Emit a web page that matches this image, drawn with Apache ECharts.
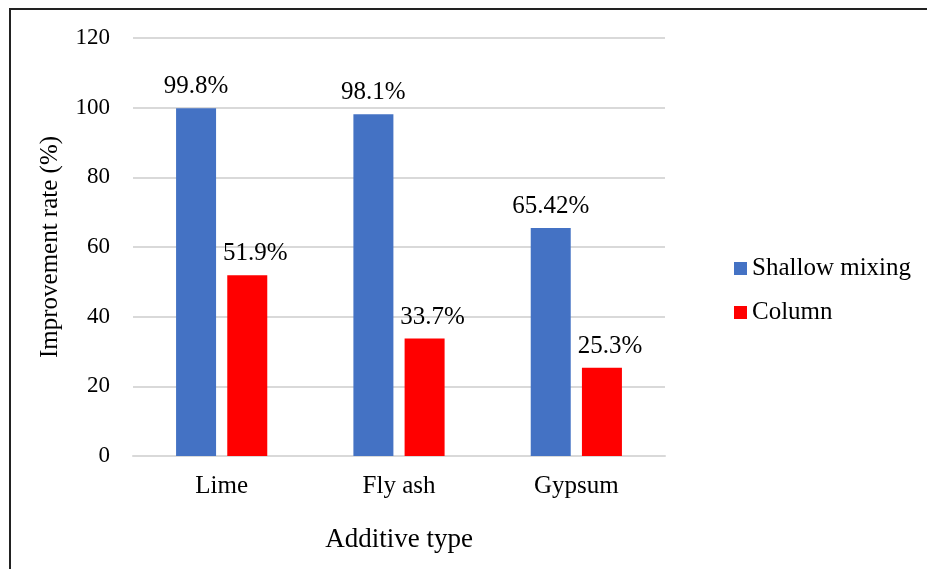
<!DOCTYPE html>
<html lang="en">
<head>
    <meta charset="utf-8">
    <title>Improvement rate</title>
    <script src="https://cdn.jsdelivr.net/npm/echarts@6/dist/echarts.min.js"></script>
    <style>
        html, body { margin: 0; padding: 0; background: #fff; }
        #frame { position: absolute; left: 9px; top: 8px; width: 930px; height: 580px;
                 border-left: 2px solid #222; border-top: 2px solid #222; }
        #chart { position: absolute; left: 0; top: 0; width: 927px; height: 569px; }
    </style>
</head>
<body>
<div id="frame"></div>
<div id="chart"></div>
<script type="text/javascript">
    // 数据
    var categories = ['Lime', 'Fly ash', 'Gypsum'];
    var shallowMixing = [99.8, 98.1, 65.42];
    var column = [51.9, 33.7, 25.3];
    var shallowLabels = ['99.8%', '98.1%', '65.42%'];
    var columnLabels = ['51.9%', '33.7%', '25.3%'];

    var font = '"Liberation Serif", "Times New Roman", serif';
    var chart = echarts.init(document.getElementById('chart'));

    function labelFor(texts, dx) {
        return {
            show: true,
            position: 'top',
            distance: 9,
            offset: [dx, 0],
            fontFamily: font,
            fontSize: 25,
            color: '#000',
            formatter: function (p) { return texts[p.dataIndex]; }
        };
    }

    option = {
        animation: false,
        textStyle: { fontFamily: font },
        grid: { left: 133, right: 262, top: 38, bottom: 113 },
        legend: {
            orient: 'vertical',
            left: 734,
            top: 256,
            padding: 0,
            itemWidth: 13,
            itemHeight: 13,
            itemGap: 19,
            icon: 'rect',
            textStyle: { fontFamily: font, fontSize: 25, color: '#000' },
            data: ['Shallow mixing', 'Column']
        },
        xAxis: {
            type: 'category',
            data: categories,
            name: 'Additive type',
            nameLocation: 'middle',
            nameGap: 70,
            nameTextStyle: { fontFamily: font, fontSize: 27, color: '#000' },
            axisLine: { lineStyle: { color: '#d9d9d9', width: 2 } },
            axisTick: { show: false },
            axisLabel: { fontFamily: font, fontSize: 25, color: '#000', margin: 18 }
        },
        yAxis: {
            type: 'value',
            min: 0,
            max: 120,
            interval: 20,
            name: 'Improvement rate (%)',
            nameLocation: 'middle',
            nameGap: 70,
            nameTextStyle: { fontFamily: font, fontSize: 25, color: '#000' },
            axisLine: { show: false },
            axisTick: { show: false },
            axisLabel: { fontFamily: font, fontSize: 23, color: '#000', margin: 23 },
            splitLine: { lineStyle: { color: '#d9d9d9', width: 2 } }
        },
        series: [
            {
                name: 'Shallow mixing',
                type: 'bar',
                barWidth: 40,
                barGap: '28%',
                itemStyle: { color: '#4472c4' },
                label: labelFor(shallowLabels, 0),
                data: shallowMixing
            },
            {
                name: 'Column',
                type: 'bar',
                barWidth: 40,
                itemStyle: { color: '#ff0000' },
                label: labelFor(columnLabels, 8),
                data: column
            }
        ]
    };
    chart.setOption(option);
</script>
</body>
</html>
